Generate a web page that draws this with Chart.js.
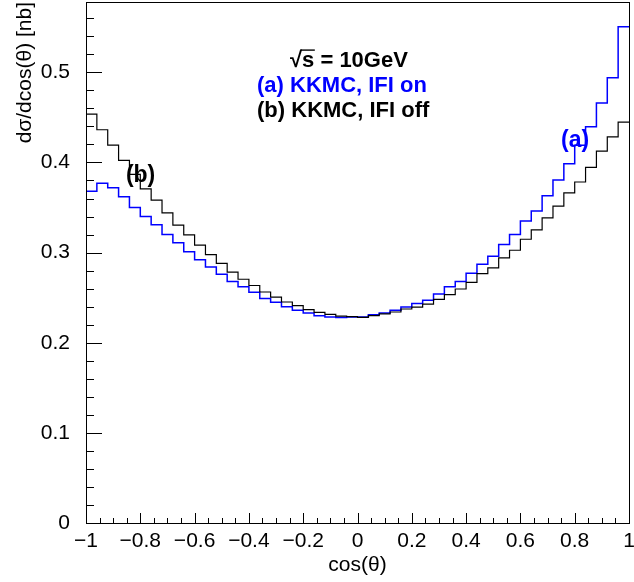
<!DOCTYPE html>
<html>
<head>
<meta charset="utf-8">
<script src="https://cdn.jsdelivr.net/npm/chart.js@4.4.1/dist/chart.umd.min.js"></script>
<style>
  html, body { margin: 0; padding: 0; background: #fff; }
  #wrap { width: 634px; height: 582px; }
</style>
</head>
<body>
<div id="wrap"><canvas id="chart" width="634" height="582"></canvas></div>
<script>
// Histogram range / binning
const xMin = -1;
const xMax = 1;
const yMax = 0.578;

// Bin contents (50 bins of 0.04)
const ifiOn = [
  0.368, 0.377, 0.372, 0.362, 0.350, 0.340, 0.331, 0.320, 0.311, 0.301,
  0.292, 0.284, 0.276, 0.268, 0.262, 0.256, 0.249, 0.245, 0.240, 0.236,
  0.233, 0.230, 0.2285, 0.228, 0.2285, 0.2285, 0.231, 0.233, 0.236, 0.2395,
  0.2435, 0.247, 0.254, 0.262, 0.268, 0.277, 0.287, 0.296, 0.309, 0.320,
  0.335, 0.346, 0.363, 0.3805, 0.3985, 0.419, 0.4395, 0.466, 0.494, 0.5505
];
const ifiOff = [
  0.4535, 0.4363, 0.4193, 0.4022, 0.3867, 0.3707, 0.3581, 0.3441, 0.3304, 0.3196,
  0.3083, 0.2978, 0.2880, 0.2783, 0.2704, 0.2635, 0.2563, 0.2506, 0.2452, 0.2411,
  0.2367, 0.2337, 0.2315, 0.2296, 0.2289, 0.2281, 0.2300, 0.2319, 0.2341, 0.2374,
  0.2395, 0.2428, 0.2480, 0.2533, 0.2596, 0.2670, 0.2767, 0.2830, 0.2941, 0.3026,
  0.3148, 0.3252, 0.3385, 0.3515, 0.3663, 0.3783, 0.3946, 0.4126, 0.4283, 0.4448
];

// Axis labels
const xTicks = [-1, -0.8, -0.6, -0.4, -0.2, 0, 0.2, 0.4, 0.6, 0.8, 1];
const yTicks = [0, 0.1, 0.2, 0.3, 0.4, 0.5];
const xMinorStep = 0.05;
const yMinorStep = 0.02;

const FONT = '"Liberation Sans", Arial, Helvetica, sans-serif';

// turn bin contents into step points at bin low edges (+ closing point)
function toSteps(values) {
  const w = (xMax - xMin) / values.length;
  const pts = values.map((v, i) => ({ x: xMin + i * w, y: v }));
  pts.push({ x: xMax, y: values[values.length - 1] });
  return pts;
}

function fmt(v) {
  if (Math.abs(v) < 1e-9) return '0';
  const s = String(Math.round(Math.abs(v) * 10) / 10);
  return (v < 0 ? '\u2212' : '') + s;
}

// Text boxes placed in data coordinates (left edge, baseline)
const notes = [
  { text: '\u221As = 10GeV', x: -0.2486, y: 0.5056, color: '#000', size: 22, root: true },
  { text: '(a) KKMC, IFI on', x: -0.370, y: 0.4778, color: '#0000ff', size: 22 },
  { text: '(b) KKMC, IFI off', x: -0.370, y: 0.4500, color: '#000', size: 22 },
  { text: '(b)', x: -0.853, y: 0.3778, color: '#000', size: 23 },
  { text: '(a)', x: 0.7495, y: 0.4167, color: '#0000ff', size: 23 }
];

const rootFrame = {
  id: 'rootFrame',
  afterDatasetsDraw(chart) {
    const { ctx, chartArea: a, scales: { x, y } } = chart;
    ctx.save();
    ctx.strokeStyle = '#000';
    ctx.lineWidth = 1;
    ctx.beginPath();

    // y ticks, inward from left edge
    for (let k = 0; k * yMinorStep <= yMax + 1e-9; k++) {
      const v = k * yMinorStep;
      const major = k % 5 === 0;
      const py = Math.round(y.getPixelForValue(v)) + 0.5;
      ctx.moveTo(a.left, py);
      ctx.lineTo(a.left + (major ? 16 : 8), py);
    }
    // x ticks, inward from bottom edge
    for (let k = 0; xMin + k * xMinorStep <= xMax + 1e-9; k++) {
      const v = xMin + k * xMinorStep;
      const major = k % 4 === 0;
      const px = Math.round(x.getPixelForValue(v)) + 0.5;
      ctx.moveTo(px, a.bottom);
      ctx.lineTo(px, a.bottom - (major ? 10 : 5));
    }
    ctx.stroke();

    // frame
    ctx.strokeRect(Math.round(a.left) + 0.5, Math.round(a.top) + 0.5,
      Math.round(a.right - a.left), Math.round(a.bottom - a.top));

    // annotations
    ctx.textBaseline = 'alphabetic';
    ctx.textAlign = 'left';
    notes.forEach(n => {
      ctx.font = 'bold ' + n.size + 'px ' + FONT;
      ctx.fillStyle = n.color;
      const px = x.getPixelForValue(n.x);
      const py = y.getPixelForValue(n.y);
      ctx.fillText(n.text, px, py);
      if (n.root) {
        // overbar of the square root across the "s"
        const w0 = ctx.measureText('\u221A').width;
        const w1 = ctx.measureText('\u221As').width;
        const top = py - n.size * 0.78;
        ctx.strokeStyle = n.color;
        ctx.lineWidth = 1.4;
        ctx.beginPath();
        ctx.moveTo(px + w0 - 1.5, top);
        ctx.lineTo(px + w1 + 0.5, top);
        ctx.stroke();
      }
    });
    ctx.restore();
  }
};

// keep the frame where it is in the picture: no extra room for label overhang
function noOverhang(s) {
  s.paddingLeft = 0;
  s.paddingRight = 0;
  s.paddingTop = 0;
  s.paddingBottom = 0;
}

new Chart(document.getElementById('chart'), {
  type: 'line',
  data: {
    datasets: [
      {
        label: 'KKMC, IFI off',
        data: toSteps(ifiOff),
        stepped: true,
        borderColor: '#000',
        borderWidth: 1.2,
        pointRadius: 0,
        fill: false
      },
      {
        label: 'KKMC, IFI on',
        data: toSteps(ifiOn),
        stepped: true,
        borderColor: '#0000ff',
        borderWidth: 1.5,
        pointRadius: 0,
        fill: false
      }
    ]
  },
  options: {
    responsive: false,
    animation: false,
    events: [],
    layout: { padding: { top: 2, right: 5, left: 0, bottom: 0 } },
    plugins: {
      legend: { display: false },
      tooltip: { enabled: false }
    },
    scales: {
      x: {
        type: 'linear',
        min: xMin,
        max: xMax,
        afterBuildTicks: s => { s.ticks = xTicks.map(v => ({ value: v })); },
        afterFit: s => { s.height = 59; noOverhang(s); },
        grid: { display: false },
        border: { display: false },
        ticks: {
          color: '#000',
          font: { family: FONT, size: 21 },
          padding: -2,
          maxRotation: 0,
          autoSkip: false,
          callback: v => fmt(v)
        },
        title: {
          display: true,
          text: 'cos(\u03B8)',
          color: '#000',
          font: { family: FONT, size: 21 },
          padding: { top: 0, bottom: 4 }
        }
      },
      y: {
        type: 'linear',
        min: 0,
        max: yMax,
        afterBuildTicks: s => { s.ticks = yTicks.map(v => ({ value: v })); },
        afterFit: s => { s.width = 86; noOverhang(s); },
        grid: { display: false },
        border: { display: false },
        ticks: {
          color: '#000',
          font: { family: FONT, size: 21 },
          padding: 8,
          autoSkip: false,
          callback: v => fmt(v)
        },
        title: {
          display: true,
          text: 'd\u03C3/dcos(\u03B8) [nb]',
          color: '#000',
          align: 'end',
          font: { family: FONT, size: 21 },
          padding: { top: 13, bottom: 0 }
        }
      }
    }
  },
  plugins: [rootFrame]
});
</script>
</body>
</html>
